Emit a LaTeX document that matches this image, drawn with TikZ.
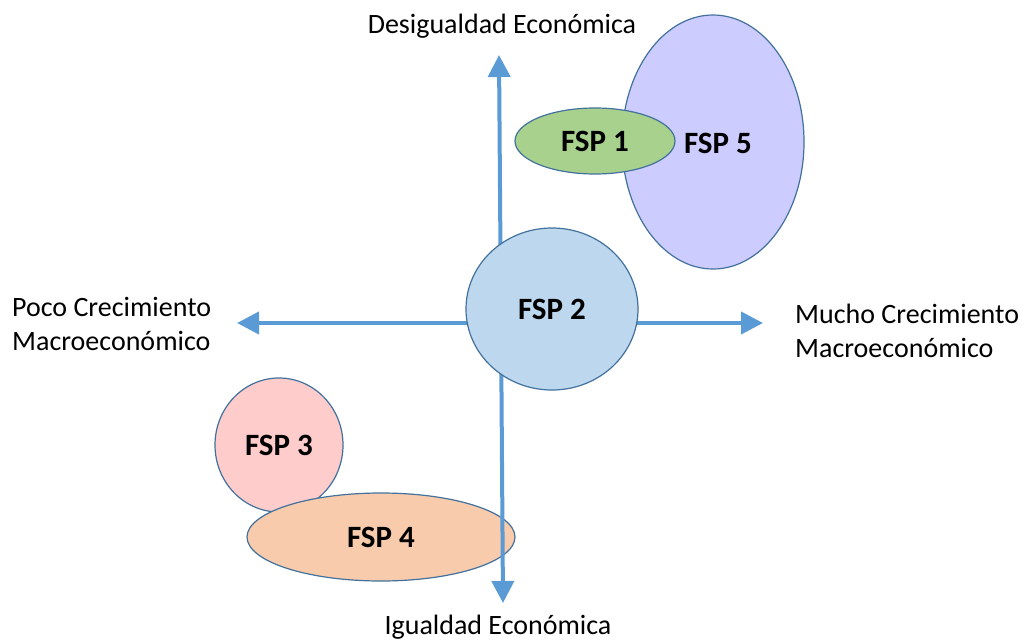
\documentclass[tikz,border=0pt]{standalone}
\usepackage{fontspec}
\setmainfont{Carlito}
\usetikzlibrary{shapes.geometric,arrows.meta}
\definecolor{axisblue}{HTML}{5B9BD5}
\definecolor{edgeblue}{HTML}{41719C}
\definecolor{fspgreen}{HTML}{A9D18E}
\definecolor{fsplilac}{HTML}{CCCCFF}
\definecolor{fspblue}{HTML}{BDD7EE}
\definecolor{fsppink}{HTML}{FFCCCC}
\definecolor{fsppeach}{HTML}{F8CBAD}
\begin{document}
\begin{tikzpicture}[x=1pt,y=-1pt,
    fsp/.style={shape = ellipse, draw = edgeblue, line width = 1.2pt, inner sep = 0pt, font = \fontsize{31}{36}\selectfont\bfseries},
    axis/.style={draw = axisblue, line width = 4pt, -{Triangle[width = 22pt, length = 22pt]}},
    axistext/.style={font = \fontsize{28}{34}\selectfont, align = left, inner sep = 0pt}]
    \useasboundingbox (0, 0) rectangle (1027, 640);
    \node (FifthSystem) [fsp, fill = fsplilac, minimum width = 182pt, minimum height = 254pt] at (713, 142) {};
    \node (FifthLabel) at (718, 143) {\fontsize{31}{36}\selectfont\bfseries FSP 5};
    \node (FirstSystem) [fsp, fill = fspgreen, minimum width = 160pt, minimum height = 66pt] at (595, 141) {FSP 1};
    \node (ThirdSystem) [fsp, fill = fsppink, minimum width = 128pt, minimum height = 134pt] at (279, 445) {FSP 3};
    \node (FourthSystem) [fsp, fill = fsppeach, minimum width = 268pt, minimum height = 88pt] at (381, 537) {FSP 4};
    \coordinate (Origin) at (501, 323);
    \coordinate (TopEnd) at (499, 55);
    \coordinate (BottomEnd) at (503, 603);
    \coordinate (LeftEnd) at (237, 323);
    \coordinate (RightEnd) at (763, 323);
    \draw [axis] (Origin) -- (TopEnd);
    \draw [axis] (Origin) -- (BottomEnd);
    \draw [axis] (Origin) -- (LeftEnd);
    \draw [axis] (Origin) -- (RightEnd);
    \node (SecondSystem) [fsp, fill = fspblue, minimum width = 172pt, minimum height = 162pt] at (552, 309) {FSP 2};
    \node (TopText) [axistext, anchor = base] at (502, 33) {Desigualdad Económica};
    \node (BottomText) [axistext, anchor = base] at (498, 634) {Igualdad Económica};
    \node (LeftText) [axistext, anchor = base west] at (12, 350) {Poco Crecimiento\\Macroeconómico};
    \node (RightText) [axistext, anchor = base west] at (795, 357) {Mucho Crecimiento\\Macroeconómico};
\end{tikzpicture}
\end{document}
